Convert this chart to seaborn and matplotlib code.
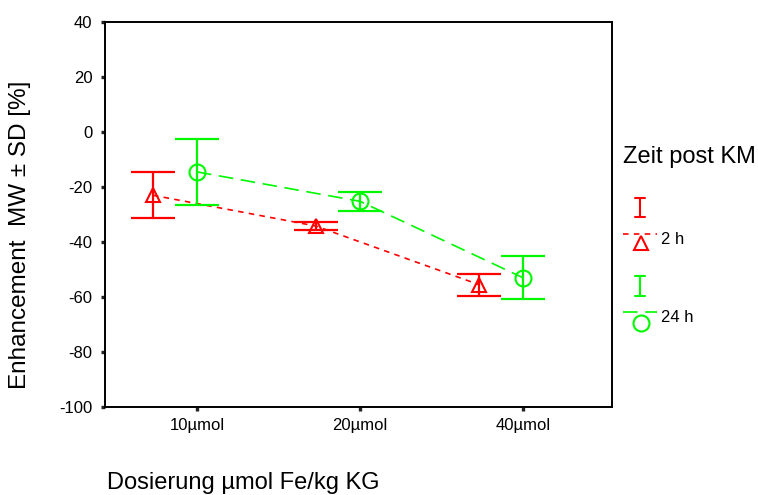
import matplotlib
matplotlib.use("Agg")
import matplotlib.pyplot as plt
from matplotlib.lines import Line2D
import seaborn as sns
import pandas as pd

# Enhancement (mean ± SD) by dose and time after contrast agent
doses = ["10µmol", "20µmol", "40µmol"]
groups = ["2 h", "24 h"]
mean_2h = [-23.0, -34.2, -55.5]
sd_2h = [8.4, 1.3, 4.0]
mean_24h = [-14.5, -25.2, -53.0]
sd_24h = [12.0, 3.5, 7.8]
y_ticks = [40, 20, 0, -20, -40, -60, -80, -100]

sns.set_theme(style="white")
plt.rcParams["font.family"] = ["Liberation Sans", "DejaVu Sans"]
plt.rcParams["lines.scale_dashes"] = False
plt.rcParams["axes.unicode_minus"] = False
plt.rcParams["text.color"] = "black"

W, H = 758, 495
fig = plt.figure(figsize=(W / 100, H / 100), dpi=100)
fig.patch.set_facecolor("white")


def px(x, y):
    return x / W, 1 - y / H


ax = fig.add_axes([105 / W, 1 - 407 / H, (612 - 105) / W, (407 - 22) / H])

offsets = {"2 h": -0.27, "24 h": 0.0}
colors = {"2 h": "#ff0000", "24 h": "#00f800"}
markers = {"2 h": "^", "24 h": "o"}
dashes = {"2 h": (4.0, 3.8), "24 h": (10.5, 5.5)}
msize = {"2 h": 9.5, "24 h": 11.5}

means = {"2 h": mean_2h, "24 h": mean_24h}
sds = {"2 h": sd_2h, "24 h": sd_24h}

rows = []
for g in groups:
    for i, d in enumerate(doses):
        rows.append({"x": i + offsets[g], "dose": d, "group": g,
                     "mean": means[g][i], "sd": sds[g][i]})
df = pd.DataFrame(rows)

sns.lineplot(data=df, x="x", y="mean", hue="group", style="group",
             palette=colors, dashes=dashes, markers=markers,
             lw=1.2, sort=False, legend=False, ax=ax)

for line, g in zip(ax.lines, groups):
    line.set_markerfacecolor("none")
    line.set_markeredgecolor(colors[g])
    line.set_markeredgewidth(1.5)
    line.set_markersize(msize[g])

for g in groups:
    sub = df[df["group"] == g]
    ax.errorbar(sub["x"], sub["mean"], yerr=sub["sd"], fmt="none",
                ecolor=colors[g], elinewidth=1.6, capsize=15.5,
                capthick=1.6, zorder=3)

ax.set_xlim(-0.564, 2.546)
ax.set_ylim(-100, 40)
ax.set_xticks(range(len(doses)), doses)
ax.set_yticks(y_ticks)
ax.set_xlabel("")
ax.set_ylabel("")
ax.tick_params(axis="both", direction="out", length=3, width=2.4,
               color="#222222", labelsize=12, labelcolor="black",
               bottom=True, left=True)
ax.tick_params(axis="x", pad=5)
ax.tick_params(axis="y", pad=6)
for s in ax.spines.values():
    s.set_visible(True)
    s.set_color("black")
    s.set_linewidth(1.4)

fig.text(*px(20, 235), "Enhancement  MW ± SD [%]", rotation=90,
         ha="center", va="center", fontsize=17.5)
fig.text(*px(107, 483), "Dosierung µmol Fe/kg KG", ha="left",
         va="center", fontsize=17)

# legend
fig.text(*px(623, 157), "Zeit post KM", ha="left", va="center", fontsize=17)


def err_glyph(y0, y1, c):
    tf = fig.transFigure
    x0, _ = px(640, 0)
    fig.add_artist(Line2D([x0, x0], [px(0, y0)[1], px(0, y1)[1]],
                          color=c, lw=1.5, transform=tf))
    for yy in (y0, y1):
        fig.add_artist(Line2D([px(635, 0)[0], px(645, 0)[0]],
                              [px(0, yy)[1]] * 2, color=c, lw=1.5,
                              transform=tf))


def line_glyph(yl, ym, g, label, ytxt):
    tf = fig.transFigure
    fig.add_artist(Line2D([px(623, 0)[0], px(657, 0)[0]],
                          [px(0, yl)[1]] * 2, color=colors[g], lw=1.2,
                          dashes=dashes[g], transform=tf))
    fig.add_artist(Line2D([px(641, 0)[0]], [px(0, ym)[1]],
                          marker=markers[g], ms=msize[g], mfc="none",
                          mec=colors[g], mew=1.5, transform=tf))
    fig.text(*px(661, ytxt), label, ha="left", va="center", fontsize=12)


err_glyph(198, 217, colors["2 h"])
line_glyph(234, 243, "2 h", "2 h", 240)
err_glyph(276, 296, colors["24 h"])
line_glyph(312, 323, "24 h", "24 h", 318)

fig.savefig("out.png", dpi=100, facecolor="white")
